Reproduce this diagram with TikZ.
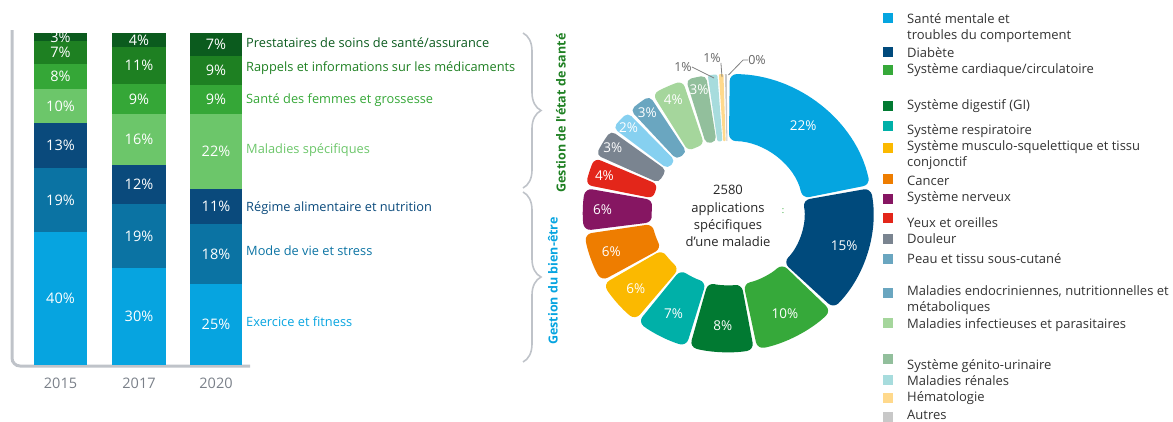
\documentclass[tikz,border=0pt]{standalone}
\usepackage{fontspec}
\setmainfont{Open Sans}
\usetikzlibrary{positioning, decorations.pathreplacing}

% bar colours
\definecolor{prest}{HTML}{0B5B1E}
\definecolor{rappel}{HTML}{1E8022}
\definecolor{femme}{HTML}{35A737}
\definecolor{malspec}{HTML}{6CC66A}
\definecolor{regime}{HTML}{0A4A7C}
\definecolor{mode}{HTML}{0B73A3}
\definecolor{exerc}{HTML}{06A4E0}
\definecolor{axisgrey}{HTML}{BFC3C9}
\definecolor{yeargrey}{HTML}{7A8089}
% donut colours
\definecolor{mental}{HTML}{05A5E0}
\definecolor{diab}{HTML}{004A7C}
\definecolor{cardio}{HTML}{36A93A}
\definecolor{digest}{HTML}{017A32}
\definecolor{respi}{HTML}{00B0A8}
\definecolor{muscu}{HTML}{FBB900}
\definecolor{cancer}{HTML}{EE7D00}
\definecolor{nerv}{HTML}{861662}
\definecolor{yeux}{HTML}{E3261A}
\definecolor{douleur}{HTML}{7A8490}
\definecolor{peau}{HTML}{86D0F0}
\definecolor{endo}{HTML}{6AA6C0}
\definecolor{infect}{HTML}{A5D69C}
\definecolor{genito}{HTML}{92BF9C}
\definecolor{renal}{HTML}{A7DCDD}
\definecolor{hemato}{HTML}{FFD98C}
\definecolor{autres}{HTML}{C8C8C8}

\tikzset{%
	barlbl/.style={text=white, inner sep=0pt, font=\fontsize{14.5}{16}\selectfont},
	catlbl/.style={anchor=west, inner sep=0pt, font=\fontsize{12.8}{15}\selectfont},
	yearlbl/.style={text=yeargrey, font=\fontsize{14.5}{16}\selectfont},
	grplbl/.style={rotate=90, inner sep=0pt, font=\bfseries\fontsize{12.5}{14}\selectfont},
	bracket/.style={draw=axisgrey, line width=1.6pt, decorate, decoration={brace, amplitude=18pt}},
	slicelbl/.style={text=white, inner sep=0pt, font=\fontsize{13.5}{15}\selectfont},
	outlbl/.style={text=black!60, inner sep=0pt, font=\fontsize{12.5}{14}\selectfont},
	leader/.style={draw=black!50, line width=0.8pt},
	legbox/.style={minimum size=10pt, inner sep=0pt},
	legtxt/.style={anchor=west, align=left, inner sep=0pt, text=black!80, font=\fontsize{13}{16}\selectfont},
	centertxt/.style={align=center, inner sep=0pt, text=black!85, font=\fontsize{13}{17.3}\selectfont}
}

% x left/x right/y top/y bottom/colour/value
\def\barsegs{
	34/87/33/41/prest/3, 34/87/41/64/rappel/7, 34/87/64/89/femme/8, 34/87/89/123/malspec/10,
	34/87/123/168/regime/13, 34/87/168/232/mode/19, 34/87/232/365/exerc/40,
	112/166/33/47/prest/4, 112/166/47/84/rappel/11, 112/166/84/114/femme/9, 112/166/114/165/malspec/16,
	112/166/165/204/regime/12, 112/166/204/268/mode/19, 112/166/268/365/exerc/30,
	190/242/33/56/prest/7, 190/242/56/85/rappel/9, 190/242/85/114/femme/9, 190/242/114/189/malspec/22,
	190/242/189/224/regime/11, 190/242/224/284/mode/18, 190/242/284/365/exerc/25}

\begin{document}
\begin{tikzpicture}[x=1pt, y=-1pt]
	\useasboundingbox (0,0) rectangle (1173,421);

	% stacked bars
	\draw[axisgrey, line width=3pt, rounded corners=8pt] (12,30) -- (12,366) -- (250,366);
	\foreach \xl/\xr/\yt/\yb/\col/\val in \barsegs
		\fill[\col] (\xl,\yt) rectangle (\xr,\yb);
	\foreach \xl/\xr/\yt/\yb/\col/\val [count=\n] in \barsegs
		\node[barlbl] (seg\n) at ({(\xl+\xr)/2},{(\yt+\yb)/2}) {\val\%};
	\node[yearlbl] (y1) at (60.5,383) {2015};
	\node[yearlbl] (y2) at (139,383)  {2017};
	\node[yearlbl] (y3) at (216,383)  {2020};

	% categories
	\node[catlbl, text=prest]   (c1) at (246,43)  {Prestataires de soins de santé/assurance};
	\node[catlbl, text=rappel]  (c2) at (246,68)  {Rappels et informations sur les médicaments};
	\node[catlbl, text=femme]   (c3) at (246,100) {Santé des femmes et grossesse};
	\node[catlbl, text=malspec] (c4) at (246,150) {Maladies spécifiques};
	\node[catlbl, text=regime]  (c5) at (246,208) {Régime alimentaire et nutrition};
	\node[catlbl, text=mode]    (c6) at (246,251) {Mode de vie et stress};
	\node[catlbl, text=exerc]   (c7) at (246,322) {Exercice et fitness};

	\draw[bracket] (523,33) -- (523,188);
	\draw[bracket] (523,192) -- (523,362);
	\node[grplbl, text=rappel] (g1) at (561,113) {Gestion de l\textquotesingle état de santé};
	\node[grplbl, text=exerc]  (g2) at (553,281) {Gestion du bien-être};

	% donut
	\begin{scope}[shift={(728,213)}]
		\foreach \s/\e/\col/\val/\lr/\rc in {
			89.3/11.7/mental/22/113/7, 10.3/-43.3/diab/15/116/7, -44.7/-78.3/cardio/10/114/7,
			-79.7/-105.3/digest/8/113/7, -106.7/-128.3/respi/7/113/7, -129.7/-149.3/muscu/6/116/7,
			-150.7/-171.3/cancer/6/118/7, -172.7/-190.3/nerv/6/120/7, -191.7/-203.3/yeux/4/124/6,
			-204.7/-216.3/douleur/3/128/5, -217.7/-226.3/peau/2/128/5, -227.7/-237.3/endo/3/127/5,
			-238.7/-251.8/infect/4/125/6, -253.2/-261.3/genito/3/126/5, -262/-265.8/renal/0/0/2,
			-266.4/-268.2/hemato/0/0/0.8, -268.8/-269.5/autres/0/0/0.2}
		{
			\fill[\col, rounded corners=\rc pt] (\s:145pt and 139pt)
				arc[start angle=\s, end angle=\e, x radius=145pt, y radius=139pt]
				-- (\e:76pt and 72pt)
				arc[start angle=\e, end angle=\s, x radius=76pt, y radius=72pt] -- cycle;
			\ifnum\lr>0
				\pgfmathsetmacro\m{(\s+\e)/2}
				\pgfmathsetmacro\lx{1.045*\lr}
				\node[slicelbl] (p\val-\lr) at (\m:\lx pt and \lr pt) {\val\%};
			\fi
		}
	\end{scope}
	\node[centertxt] (ctr) at (728,216) {2580\\applications\\spécifiques\\d’une maladie};
	\node[text=cardio, inner sep=0pt, font=\fontsize{9}{10}\selectfont] (colon) at (783,211) {:};

	\coordinate (t1) at (714,78);
	\coordinate (t2) at (722,77);
	\coordinate (t3) at (728.5,75);
	\node[outlbl] (o1) at (683,67) {1\%};
	\node[outlbl] (o2) at (712,58) {1\%};
	\node[outlbl] (o3) at (757,60) {0\%};
	\draw[leader] (o1.east) -- (t1);
	\draw[leader] (o2.south east) -- (t2);
	\draw[leader] (o3.west) -- ++(-5,0) -- (t3);

	% legend
	\foreach \ty/\sy/\col/\txt [count=\n] in {
		28/18/mental/{Santé mentale et\\troubles du comportement},
		53/52/diab/{Diabète},
		70/70/cardio/{Système cardiaque/circulatoire},
		106/106/digest/{Système digestif (GI)},
		131/126/respi/{Système respiratoire},
		155/148/muscu/{Système musculo-squelettique et tissu\\conjonctif},
		181/179/cancer/{Cancer},
		198/199/nerv/{Système nerveux},
		223/218/yeux/{Yeux et oreilles},
		239/239/douleur/{Douleur},
		259/259/endo/{Peau et tissu sous-cutané},
		300.5/293/endo/{Maladies endocriniennes, nutritionnelles et\\métaboliques},
		325/323/infect/{Maladies infectieuses et parasitaires},
		366/359/genito/{Système génito-urinaire},
		381/380/renal/{Maladies rénales},
		398/398/hemato/{Hématologie},
		415/417/autres/{Autres}}
	{
		\node[legbox, fill=\col] (sq\n) at (888,\sy) {};
		\node[legtxt] (lg\n) at (907,\ty) {\txt};
	}
\end{tikzpicture}
\end{document}
